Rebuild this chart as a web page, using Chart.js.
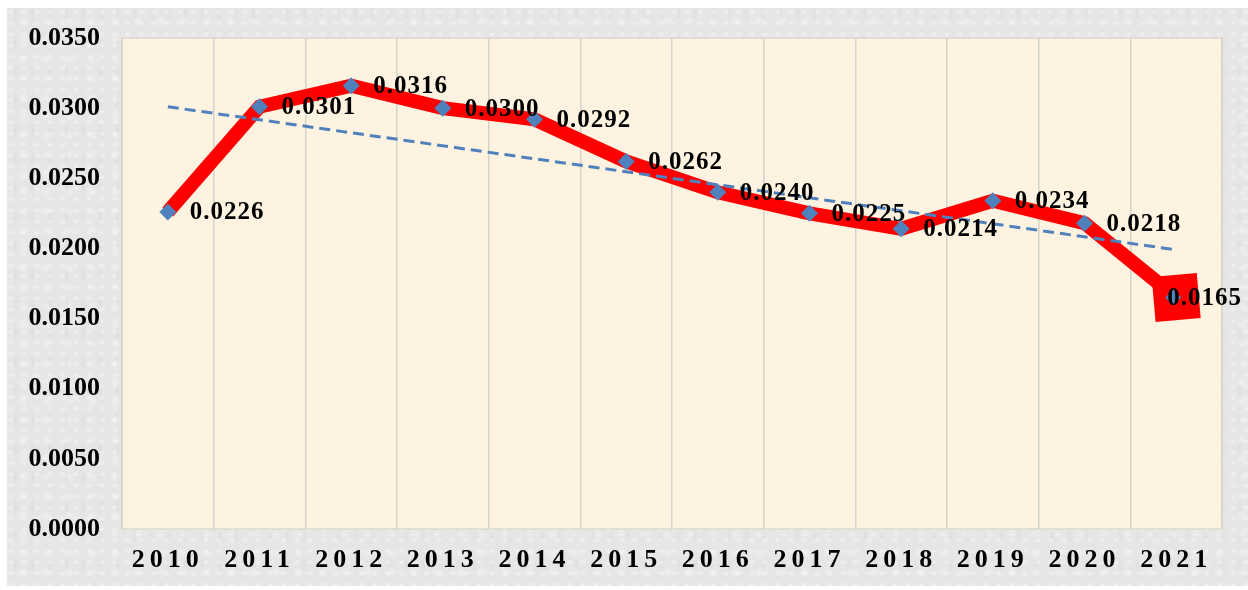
<!DOCTYPE html>
<html>
<head>
<meta charset="utf-8">
<script src="https://cdn.jsdelivr.net/npm/chart.js@4/dist/chart.umd.min.js"></script>
<style>
    html, body { margin: 0; padding: 0; background: #ffffff; }
    #frame {
        position: absolute; left: 7px; top: 8px; width: 1241px; height: 578px;
        background-color: #e6e6e6;
        background-image:
            radial-gradient(ellipse at 30% 40%, rgba(255,255,255,0.45) 0, transparent 4px),
            radial-gradient(ellipse at 70% 70%, rgba(255,255,255,0.35) 0, transparent 6px),
            radial-gradient(ellipse at 50% 20%, rgba(210,210,210,0.35) 0, transparent 3px);
        background-size: 13px 11px, 23px 19px, 17px 29px;
    }
    #chart { position: absolute; left: 0; top: 0; }
</style>
</head>
<body>
<div id="frame"></div>
<canvas id="chart" width="1248" height="590"></canvas>
<script>
// Data
const years = ['2010', '2011', '2012', '2013', '2014', '2015', '2016', '2017', '2018', '2019', '2020', '2021'];
const ratios = [0.0226, 0.0301, 0.0316, 0.0300, 0.0292, 0.0262, 0.0240, 0.0225, 0.0214, 0.0234, 0.0218, 0.0165];
// Linear trend line, read at its two ends (first and last year)
const trendEnds = [0.0301, 0.0199];
const yTickValues = [0, 0.005, 0.010, 0.015, 0.020, 0.025, 0.030, 0.035];

const FONT_FAMILY = "'Liberation Serif', 'Times New Roman', serif";
const RED = '#ff0000';
const BLUE = '#4f81bd';
const lastIndex = ratios.length - 1;

const trendData = years.map((y, i) => {
    if (i === 0) return trendEnds[0];
    if (i === lastIndex) return trendEnds[1];
    return null;
});

// Cream plot area with a thin edge
const plotBackground = {
    id: 'plotBackground',
    beforeDraw(chart) {
        const { ctx, chartArea: a } = chart;
        ctx.save();
        ctx.fillStyle = '#fdf3e0';
        ctx.fillRect(a.left, a.top, a.right - a.left, a.bottom - a.top);
        ctx.strokeStyle = '#dcd8d0';
        ctx.lineWidth = 1.5;
        ctx.strokeRect(a.left, a.top, a.right - a.left, a.bottom - a.top);
        ctx.restore();
    }
};

// Value labels to the right of each point
const valueLabels = {
    id: 'valueLabels',
    afterDatasetsDraw(chart) {
        const { ctx } = chart;
        const meta = chart.getDatasetMeta(0);
        ctx.save();
        // small diamond sitting inside the big red square
        const last = meta.data[lastIndex];
        ctx.fillStyle = BLUE;
        ctx.beginPath();
        ctx.moveTo(last.x - 3, last.y - 8);
        ctx.lineTo(last.x + 5, last.y);
        ctx.lineTo(last.x - 3, last.y + 8);
        ctx.lineTo(last.x - 11, last.y);
        ctx.closePath();
        ctx.fill();

        ctx.font = 'bold 25px ' + FONT_FAMILY;
        ctx.letterSpacing = '1px';
        ctx.fillStyle = '#000000';
        ctx.textAlign = 'left';
        ctx.textBaseline = 'middle';
        meta.data.forEach((pt, i) => {
            const dx = i === lastIndex ? -9 : 22;
            ctx.fillText(ratios[i].toFixed(4), pt.x + dx, pt.y + 1);
        });
        ctx.restore();
    }
};

const chart = new Chart(document.getElementById('chart'), {
    type: 'line',
    data: {
        labels: years,
        datasets: [{
            data: ratios,
            order: 2,
            borderColor: RED,
            borderWidth: 14,
            tension: 0,
            pointStyle: c => c.dataIndex === lastIndex ? 'rect' : 'rectRot',
            pointRadius: c => c.dataIndex === lastIndex ? 32 : 8.5,
            pointRotation: c => c.dataIndex === lastIndex ? -5 : 0,
            pointBackgroundColor: c => c.dataIndex === lastIndex ? RED : BLUE,
            pointBorderWidth: 0,
            pointBorderColor: 'transparent',
        }, {
            data: trendData,
            order: 1,
            spanGaps: true,
            borderColor: BLUE,
            borderWidth: 3,
            borderDash: [11, 6],
            pointRadius: 0,
        }]
    },
    options: {
        responsive: false,
        animation: false,
        layout: {
            // the big square marker would otherwise push the plot edge in
            autoPadding: false,
            padding: { left: 0, right: 26, top: 38, bottom: 0 }
        },
        plugins: {
            legend: { display: false },
            tooltip: { enabled: false },
        },
        scales: {
            x: {
                offset: true,
                grid: {
                    offset: true,
                    display: true,
                    drawTicks: false,
                    color: '#d6d3cc',
                    lineWidth: 1.5,
                },
                border: { display: false },
                ticks: {
                    padding: 16,
                    color: '#000000',
                    font: { family: FONT_FAMILY, size: 26, weight: 'bold' },
                },
                afterFit(scale) {
                    scale.height = 61;
                    scale.paddingLeft = 0;
                    scale.paddingRight = 0;
                },
            },
            y: {
                min: 0,
                max: 0.035,
                grid: { display: false, drawTicks: false },
                border: { display: false },
                afterBuildTicks(scale) {
                    scale.ticks = yTickValues.map(v => ({ value: v }));
                },
                ticks: {
                    padding: 22,
                    color: '#000000',
                    font: { family: FONT_FAMILY, size: 26, weight: 'bold' },
                    callback: v => Number(v).toFixed(4),
                },
                afterFit(scale) { scale.width = 122; },
            }
        }
    },
    plugins: [plotBackground, valueLabels]
});

// Spaced-out tick text, like the original
function withLetterSpacing(scale, spacing) {
    const drawLabels = scale.drawLabels.bind(scale);
    scale.drawLabels = function (area) {
        const prev = this.ctx.letterSpacing;
        this.ctx.letterSpacing = spacing;
        drawLabels(area);
        this.ctx.letterSpacing = prev;
    };
}
withLetterSpacing(chart.scales.x, '5px');
withLetterSpacing(chart.scales.y, '0px');
chart.draw();
</script>
</body>
</html>
